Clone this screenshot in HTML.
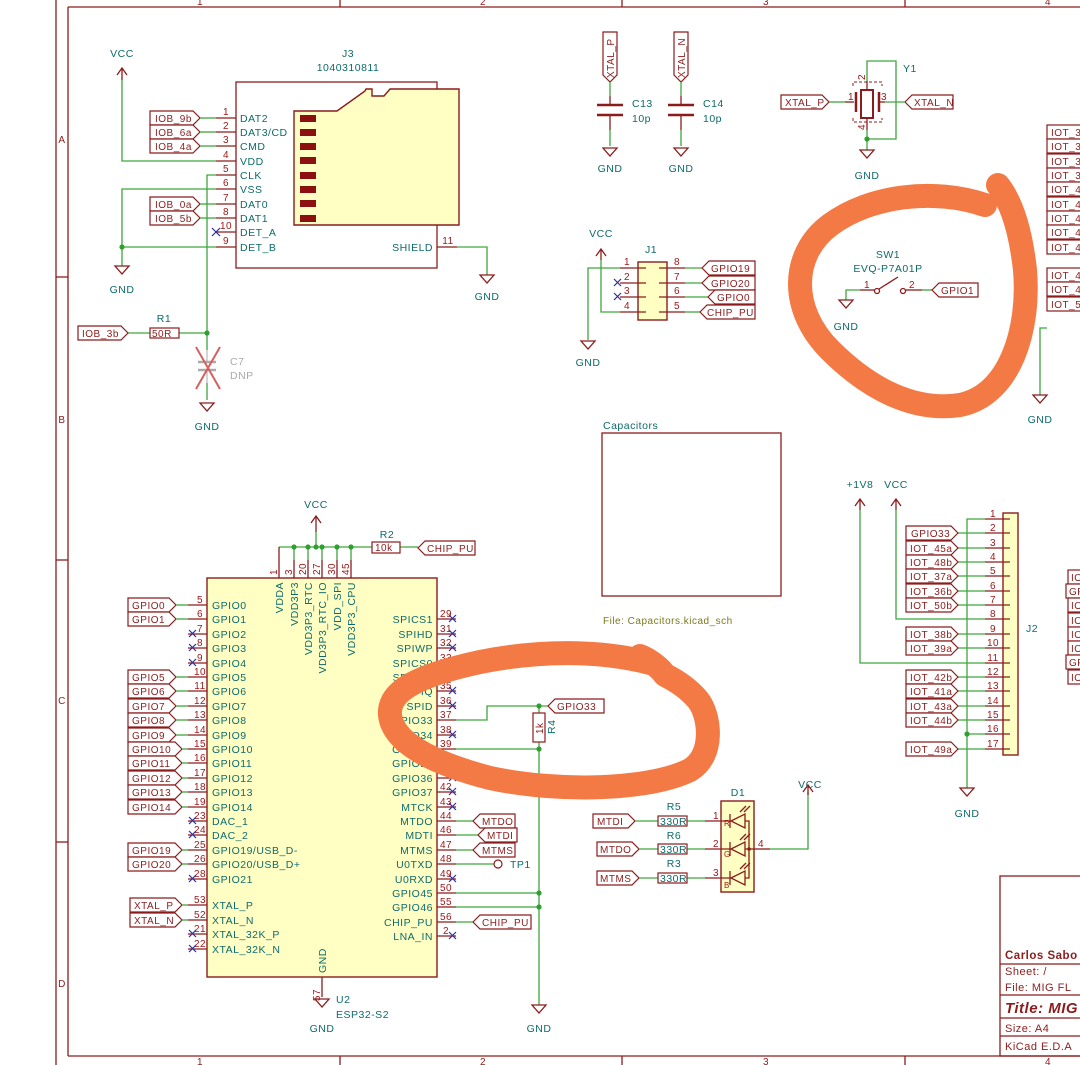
<!DOCTYPE html>
<html><head><meta charset="utf-8"><style>
html,body{margin:0;padding:0;background:#fff;}
svg{display:block;font-family:"Liberation Sans",sans-serif;}
text{letter-spacing:0.5px}
.w{stroke:#3ea63e;stroke-width:1.3;fill:none}
.p{stroke:#8c1c1c;stroke-width:1.3;fill:none}
.b{stroke:#8c1c1c;stroke-width:1.4;fill:#ffffc4}
.o{stroke:#8c1c1c;stroke-width:1.3;fill:none}
.l{stroke:#8c1c1c;stroke-width:1.2;fill:#fff}
.t{fill:#0d6b6b;font-size:10.5px}
.n{fill:#a01818;font-size:10px}
.lt{fill:#8c1c1c;font-size:10px}
.x{stroke:#2d2da0;stroke-width:1.2}
.d{fill:#2fa02f}
.or{stroke:#f47a45;stroke-width:24;fill:none;stroke-linecap:round;stroke-linejoin:round}
</style></head><body>
<svg width="1080" height="1065" viewBox="0 0 1080 1065" xmlns="http://www.w3.org/2000/svg">
<!-- frame -->
<g class="o">
<line x1="68" y1="7" x2="1080" y2="7"/><line x1="68" y1="7" x2="68" y2="1056"/><line x1="68" y1="1056" x2="1080" y2="1056"/>
<line x1="56" y1="0" x2="56" y2="1065"/>
<line x1="340" y1="0" x2="340" y2="7"/><line x1="622" y1="0" x2="622" y2="7"/><line x1="905" y1="0" x2="905" y2="7"/>
<line x1="340" y1="1056" x2="340" y2="1065"/><line x1="622" y1="1056" x2="622" y2="1065"/><line x1="905" y1="1056" x2="905" y2="1065"/>
<line x1="56" y1="277" x2="68" y2="277"/><line x1="56" y1="560" x2="68" y2="560"/><line x1="56" y1="842" x2="68" y2="842"/>
</g>
<g class="lt" text-anchor="middle" font-size="10">
<text x="200" y="5">1</text><text x="483" y="5">2</text><text x="766" y="5">3</text><text x="1048" y="5">4</text>
<text x="200" y="1065">1</text><text x="483" y="1065">2</text><text x="766" y="1065">3</text><text x="1048" y="1065">4</text>
<text x="62" y="143">A</text><text x="62" y="423">B</text><text x="62" y="704">C</text><text x="62" y="987">D</text>
</g>

<!-- J3 SD card -->
<text class="t" x="348" y="57" text-anchor="middle">J3</text>
<text class="t" x="348" y="71" text-anchor="middle">1040310811</text>
<rect x="236" y="82" width="201" height="186" class="o"/>
<path class="b" d="M294 111 L337 111 L365 91 L366 89 L372 89 L372 96 L384 96 L390 89 L459 89 L459 225 L294 225 Z"/>
<g fill="#8c1010"><rect x="300" y="115" width="16" height="7"/><rect x="300" y="129" width="16" height="7"/><rect x="300" y="143" width="16" height="7"/><rect x="300" y="157" width="16" height="7"/><rect x="300" y="172" width="16" height="7"/><rect x="300" y="186" width="16" height="7"/><rect x="300" y="200" width="16" height="7"/><rect x="300" y="215" width="16" height="7"/></g>
<g class="p"><line x1="216" y1="118" x2="236" y2="118"/><line x1="216" y1="132" x2="236" y2="132"/><line x1="216" y1="146" x2="236" y2="146"/><line x1="216" y1="161" x2="236" y2="161"/><line x1="216" y1="175" x2="236" y2="175"/><line x1="216" y1="189" x2="236" y2="189"/><line x1="216" y1="204" x2="236" y2="204"/><line x1="216" y1="218" x2="236" y2="218"/><line x1="216" y1="232" x2="236" y2="232"/><line x1="216" y1="247" x2="236" y2="247"/><line x1="437" y1="247" x2="457" y2="247"/></g>
<g class="n" text-anchor="middle"><text x="226" y="115">1</text><text x="226" y="129">2</text><text x="226" y="143">3</text><text x="226" y="158">4</text><text x="226" y="172">5</text><text x="226" y="186">6</text><text x="226" y="201">7</text><text x="226" y="215">8</text><text x="226" y="229">10</text><text x="226" y="244">9</text><text x="448" y="244">11</text></g>
<g class="t"><text x="240" y="122">DAT2</text><text x="240" y="136">DAT3/CD</text><text x="240" y="150">CMD</text><text x="240" y="165">VDD</text><text x="240" y="179">CLK</text><text x="240" y="193">VSS</text><text x="240" y="208">DAT0</text><text x="240" y="222">DAT1</text><text x="240" y="236">DET_A</text><text x="240" y="251">DET_B</text><text x="433" y="251" text-anchor="end">SHIELD</text></g>
<g class="l"><polygon points="150,111 193,111 200,118 193,125 150,125"/><polygon points="150,125 193,125 200,132 193,139 150,139"/><polygon points="150,139 193,139 200,146 193,153 150,153"/><polygon points="150,197 193,197 200,204 193,211 150,211"/><polygon points="150,211 193,211 200,218 193,225 150,225"/></g>
<g class="lt" font-size="10"><text x="155" y="122">IOB_9b</text><text x="155" y="136">IOB_6a</text><text x="155" y="150">IOB_4a</text><text x="155" y="208">IOB_0a</text><text x="155" y="222">IOB_5b</text></g>
<g class="w"><line x1="200" y1="118" x2="216" y2="118"/><line x1="200" y1="132" x2="216" y2="132"/><line x1="200" y1="146" x2="216" y2="146"/><line x1="200" y1="204" x2="216" y2="204"/><line x1="200" y1="218" x2="216" y2="218"/>
<polyline points="122,80 122,161 216,161"/><polyline points="216,189 122,189 122,266"/><line x1="122" y1="247" x2="216" y2="247"/>
<polyline points="216,175 207,175 207,350"/><line x1="207" y1="383" x2="207" y2="400"/>
<polyline points="457,247 487,247 487,275"/><line x1="128" y1="333" x2="150" y2="333"/><line x1="179" y1="333" x2="207" y2="333"/></g>
<path class="p" d="M117 75 L122 68 L127 75 M122 68 L122 80"/>
<text class="t" x="122" y="57" text-anchor="middle">VCC</text>
<path class="p" d="M115 266 L129 266 L122 274 Z"/><text class="t" x="122" y="293" text-anchor="middle">GND</text>
<path class="p" d="M480 275 L494 275 L487 283 Z"/><text class="t" x="487" y="300" text-anchor="middle">GND</text>
<line class="x" x1="212" y1="228" x2="220" y2="236"/><line class="x" x1="220" y1="228" x2="212" y2="236"/>
<circle class="d" cx="122" cy="247" r="2.6"/><circle class="d" cx="207" cy="333" r="2.6"/>
<polygon class="l" points="78,326 121,326 128,333 121,340 78,340"/><text class="lt" x="82" y="337">IOB_3b</text>
<rect x="150" y="328" width="29" height="10" class="l"/><text class="lt" x="152" y="337" font-size="10">50R</text>
<text class="t" x="164" y="322" text-anchor="middle">R1</text>
<g stroke="#aaa" stroke-width="2.5"><line x1="198" y1="362" x2="216" y2="362"/><line x1="198" y1="370" x2="216" y2="370"/></g>
<line x1="207" y1="350" x2="207" y2="362" stroke="#aaa"/><line x1="207" y1="370" x2="207" y2="383" stroke="#aaa"/>
<g stroke="#d46060" stroke-width="2"><line x1="196" y1="347" x2="220" y2="389"/><line x1="220" y1="347" x2="196" y2="389"/></g>
<text x="230" y="365" fill="#aaa" font-size="10.5">C7</text><text x="230" y="379" fill="#aaa" font-size="10.5">DNP</text>
<path class="p" d="M200 403 L214 403 L207 411 Z"/><text class="t" x="207" y="430" text-anchor="middle">GND</text>

<!-- C13 C14 -->
<g class="l"><polygon points="603,32 617,32 617,75 610,82 603,75"/><polygon points="674,32 688,32 688,75 681,82 674,75"/></g>
<text class="lt" transform="translate(614,78) rotate(-90)">XTAL_P</text><text class="lt" transform="translate(685,78) rotate(-90)">XTAL_N</text>
<g class="w"><line x1="610" y1="82" x2="610" y2="96"/><line x1="681" y1="82" x2="681" y2="96"/><line x1="610" y1="130" x2="610" y2="146"/><line x1="681" y1="130" x2="681" y2="146"/></g>
<g stroke="#8c1c1c" stroke-width="2.6"><line x1="597" y1="105" x2="623" y2="105"/><line x1="597" y1="115" x2="623" y2="115"/><line x1="668" y1="105" x2="694" y2="105"/><line x1="668" y1="115" x2="694" y2="115"/></g>
<g class="p"><line x1="610" y1="96" x2="610" y2="105"/><line x1="610" y1="115" x2="610" y2="130"/><line x1="681" y1="96" x2="681" y2="105"/><line x1="681" y1="115" x2="681" y2="130"/>
<path d="M603 148 L617 148 L610 156 Z"/><path d="M674 148 L688 148 L681 156 Z"/></g>
<g class="t"><text x="632" y="107">C13</text><text x="632" y="122">10p</text><text x="703" y="107">C14</text><text x="703" y="122">10p</text><text x="610" y="172" text-anchor="middle">GND</text><text x="681" y="172" text-anchor="middle">GND</text></g>

<!-- Y1 -->
<polygon class="l" points="781,95 822,95 829,102 822,109 781,109"/><text class="lt" x="785" y="106">XTAL_P</text>
<polygon class="l" points="905,102 912,95 953,95 953,109 912,109"/><text class="lt" x="914" y="106">XTAL_N</text>
<g class="w"><line x1="829" y1="102" x2="845" y2="102"/><line x1="885" y1="102" x2="905" y2="102"/><polyline points="867,81 867,61 896,61 896,139 867,139"/><line x1="867" y1="130" x2="867" y2="150"/></g>
<g class="p"><line x1="845" y1="102" x2="854" y2="102"/><line x1="880" y1="102" x2="885" y2="102"/><line x1="867" y1="81" x2="867" y2="90"/><line x1="867" y1="118" x2="867" y2="130"/><path d="M860 150 L874 150 L867 158 Z"/></g>
<g stroke="#8c1c1c" stroke-width="2.5"><line x1="856" y1="92" x2="856" y2="112"/><line x1="879" y1="92" x2="879" y2="112"/></g>
<rect x="861" y="90" width="12" height="28" fill="none" stroke="#8c1c1c" stroke-width="2"/>
<path d="M853 86 L853 82 L882 82 L882 86 M853 118 L853 122 L882 122 L882 118" fill="none" stroke="#8c1c1c" stroke-dasharray="3,2"/>
<circle class="d" cx="867" cy="139" r="2.6"/>
<g class="n"><text x="848" y="100">1</text><text x="881" y="100">3</text><text transform="translate(865,80) rotate(-90)">2</text><text transform="translate(865,130) rotate(-90)">4</text></g>
<text class="t" x="903" y="72">Y1</text><text class="t" x="867" y="179" text-anchor="middle">GND</text>

<!-- J1 -->
<text class="t" x="601" y="237" text-anchor="middle">VCC</text>
<path class="p" d="M596 256 L601 249 L606 256 M601 249 L601 260"/>
<text class="t" x="651" y="253" text-anchor="middle">J1</text>
<rect x="638" y="262" width="29" height="58" class="b"/>
<g class="p"><line x1="620" y1="268" x2="646" y2="268"/><line x1="620" y1="283" x2="646" y2="283"/><line x1="620" y1="297" x2="646" y2="297"/><line x1="620" y1="312" x2="646" y2="312"/><line x1="659" y1="268" x2="685" y2="268"/><line x1="659" y1="283" x2="685" y2="283"/><line x1="659" y1="297" x2="685" y2="297"/><line x1="659" y1="312" x2="685" y2="312"/></g>
<g class="n" text-anchor="middle"><text x="627" y="265">1</text><text x="627" y="280">2</text><text x="627" y="294">3</text><text x="627" y="309">4</text><text x="677" y="265">8</text><text x="677" y="280">7</text><text x="677" y="294">6</text><text x="677" y="309">5</text></g>
<g class="w"><polyline points="620,268 588,268 588,340"/><polyline points="601,260 601,312 620,312"/><line x1="685" y1="268" x2="702" y2="268"/><line x1="685" y1="283" x2="702" y2="283"/><line x1="685" y1="297" x2="708" y2="297"/><line x1="685" y1="312" x2="700" y2="312"/></g>
<g class="x"><line x1="614" y1="279" x2="621" y2="286"/><line x1="621" y1="279" x2="614" y2="286"/><line x1="614" y1="293" x2="621" y2="300"/><line x1="621" y1="293" x2="614" y2="300"/></g>
<path class="p" d="M581 341 L595 341 L588 349 Z"/><text class="t" x="588" y="366" text-anchor="middle">GND</text>
<g class="l"><polygon points="702,268 709,261 755,261 755,275 709,275"/><polygon points="702,283 709,276 755,276 755,290 709,290"/><polygon points="708,297 715,290 755,290 755,304 715,304"/><polygon points="700,312 707,305 755,305 755,319 707,319"/></g>
<g class="lt"><text x="711" y="272">GPIO19</text><text x="711" y="287">GPIO20</text><text x="717" y="301">GPIO0</text><text x="707" y="316">CHIP_PU</text></g>

<!-- SW1 -->
<text class="t" x="888" y="258" text-anchor="middle">SW1</text><text class="t" x="888" y="272" text-anchor="middle">EVQ-P7A01P</text>
<g class="w"><polyline points="860,290 846,290 846,300"/><line x1="922" y1="290" x2="932" y2="290"/></g>
<g class="p"><line x1="860" y1="290" x2="875" y2="290"/><line x1="906" y1="290" x2="922" y2="290"/><circle cx="877" cy="291" r="2.5"/><circle cx="903" cy="291" r="2.5"/><line x1="879" y1="289" x2="898" y2="277"/><path d="M839 300 L853 300 L846 308 Z"/></g>
<g class="n"><text x="864" y="288">1</text><text x="909" y="288">2</text></g>
<polygon class="l" points="932,290 939,283 978,283 978,297 939,297"/><text class="lt" x="941" y="294">GPIO1</text>
<text class="t" x="846" y="330" text-anchor="middle">GND</text>

<!-- right edge labels -->
<g class="l"><rect x="1047" y="125" width="40" height="14"/><rect x="1047" y="139" width="40" height="14"/><rect x="1047" y="154" width="40" height="14"/><rect x="1047" y="168" width="40" height="14"/><rect x="1047" y="182" width="40" height="14"/><rect x="1047" y="197" width="40" height="14"/><rect x="1047" y="211" width="40" height="14"/><rect x="1047" y="225" width="40" height="14"/><rect x="1047" y="240" width="40" height="14"/><rect x="1047" y="268" width="40" height="14"/><rect x="1047" y="282" width="40" height="14"/><rect x="1047" y="297" width="40" height="14"/></g>
<g class="lt"><text x="1051" y="136">IOT_3</text><text x="1051" y="150">IOT_3</text><text x="1051" y="165">IOT_3</text><text x="1051" y="179">IOT_3</text><text x="1051" y="193">IOT_4</text><text x="1051" y="208">IOT_4</text><text x="1051" y="222">IOT_4</text><text x="1051" y="236">IOT_4</text><text x="1051" y="251">IOT_4</text><text x="1051" y="279">IOT_4</text><text x="1051" y="293">IOT_4</text><text x="1051" y="308">IOT_5</text></g>
<g class="w"><polyline points="1047,328 1040,328 1040,395"/></g>
<path class="p" d="M1033 395 L1047 395 L1040 403 Z"/><text class="t" x="1040" y="423" text-anchor="middle">GND</text>

<!-- Capacitors sheet -->
<text class="t" x="603" y="429">Capacitors</text>
<rect x="602" y="433" width="179" height="163" class="o"/>
<text x="603" y="624" fill="#7a7a1a" font-size="10">File: Capacitors.kicad_sch</text>

<!-- U2 -->
<rect x="207" y="578" width="230" height="399" class="b"/>
<text class="t" x="316" y="508" text-anchor="middle">VCC</text>
<path class="p" d="M311 523 L316 516 L321 523 M316 516 L316 532"/>
<g class="w"><line x1="316" y1="532" x2="316" y2="547"/><line x1="279" y1="547" x2="372" y2="547"/><line x1="400" y1="547" x2="418" y2="547"/></g>
<g class="p"><line x1="279" y1="547" x2="279" y2="578"/><line x1="294" y1="560" x2="294" y2="578"/><line x1="308" y1="560" x2="308" y2="578"/><line x1="322" y1="560" x2="322" y2="578"/><line x1="337" y1="560" x2="337" y2="578"/><line x1="351" y1="560" x2="351" y2="578"/></g>
<g class="w"><line x1="294" y1="547" x2="294" y2="560"/><line x1="308" y1="547" x2="308" y2="560"/><line x1="322" y1="547" x2="322" y2="560"/><line x1="337" y1="547" x2="337" y2="560"/><line x1="351" y1="547" x2="351" y2="560"/></g>
<g class="d"><circle cx="294" cy="547" r="2.6"/><circle cx="308" cy="547" r="2.6"/><circle cx="316" cy="547" r="2.6"/><circle cx="322" cy="547" r="2.6"/><circle cx="337" cy="547" r="2.6"/><circle cx="351" cy="547" r="2.6"/></g>
<g class="n"><text transform="translate(277,575) rotate(-90)">1</text><text transform="translate(292,575) rotate(-90)">3</text><text transform="translate(306,575) rotate(-90)">20</text><text transform="translate(320,575) rotate(-90)">27</text><text transform="translate(335,575) rotate(-90)">30</text><text transform="translate(349,575) rotate(-90)">45</text></g>
<g class="t" text-anchor="end"><text transform="translate(283,582) rotate(-90)">VDDA</text><text transform="translate(298,582) rotate(-90)">VDD3P3</text><text transform="translate(312,582) rotate(-90)">VDD3P3_RTC</text><text transform="translate(326,582) rotate(-90)">VDD3P3_RTC_IO</text><text transform="translate(341,582) rotate(-90)">VDD_SPI</text><text transform="translate(355,582) rotate(-90)">VDD3P3_CPU</text></g>
<rect x="372" y="542" width="28" height="11" class="l"/><text class="lt" x="375" y="551">10k</text><text class="t" x="387" y="538" text-anchor="middle">R2</text>
<polygon class="l" points="418,548 425,541 475,541 475,555 425,555"/><text class="lt" x="427" y="552">CHIP_PU</text>

<!-- U2 left pins -->
<g class="p">
<line x1="188" y1="605" x2="207" y2="605"/><line x1="188" y1="619" x2="207" y2="619"/><line x1="188" y1="634" x2="207" y2="634"/><line x1="188" y1="648" x2="207" y2="648"/><line x1="188" y1="663" x2="207" y2="663"/><line x1="188" y1="677" x2="207" y2="677"/><line x1="188" y1="691" x2="207" y2="691"/><line x1="188" y1="706" x2="207" y2="706"/><line x1="188" y1="720" x2="207" y2="720"/><line x1="188" y1="735" x2="207" y2="735"/><line x1="188" y1="749" x2="207" y2="749"/><line x1="188" y1="763" x2="207" y2="763"/><line x1="188" y1="778" x2="207" y2="778"/><line x1="188" y1="792" x2="207" y2="792"/><line x1="188" y1="807" x2="207" y2="807"/><line x1="188" y1="821" x2="207" y2="821"/><line x1="188" y1="835" x2="207" y2="835"/><line x1="188" y1="850" x2="207" y2="850"/><line x1="188" y1="864" x2="207" y2="864"/><line x1="188" y1="879" x2="207" y2="879"/><line x1="188" y1="905" x2="207" y2="905"/><line x1="188" y1="920" x2="207" y2="920"/><line x1="188" y1="934" x2="207" y2="934"/><line x1="188" y1="949" x2="207" y2="949"/>
</g>
<g class="n" text-anchor="middle">
<text x="200" y="603">5</text><text x="200" y="617">6</text><text x="200" y="632">7</text><text x="200" y="646">8</text><text x="200" y="661">9</text><text x="200" y="675">10</text><text x="200" y="689">11</text><text x="200" y="704">12</text><text x="200" y="718">13</text><text x="200" y="733">14</text><text x="200" y="747">15</text><text x="200" y="761">16</text><text x="200" y="776">17</text><text x="200" y="790">18</text><text x="200" y="805">19</text><text x="200" y="819">23</text><text x="200" y="833">24</text><text x="200" y="848">25</text><text x="200" y="862">26</text><text x="200" y="877">28</text><text x="200" y="903">53</text><text x="200" y="918">52</text><text x="200" y="932">21</text><text x="200" y="947">22</text>
</g>
<g class="t">
<text x="212" y="609">GPIO0</text><text x="212" y="623">GPIO1</text><text x="212" y="638">GPIO2</text><text x="212" y="652">GPIO3</text><text x="212" y="667">GPIO4</text><text x="212" y="681">GPIO5</text><text x="212" y="695">GPIO6</text><text x="212" y="710">GPIO7</text><text x="212" y="724">GPIO8</text><text x="212" y="739">GPIO9</text><text x="212" y="753">GPIO10</text><text x="212" y="767">GPIO11</text><text x="212" y="782">GPIO12</text><text x="212" y="796">GPIO13</text><text x="212" y="811">GPIO14</text><text x="212" y="825">DAC_1</text><text x="212" y="839">DAC_2</text><text x="212" y="854">GPIO19/USB_D-</text><text x="212" y="868">GPIO20/USB_D+</text><text x="212" y="883">GPIO21</text><text x="212" y="909">XTAL_P</text><text x="212" y="924">XTAL_N</text><text x="212" y="938">XTAL_32K_P</text><text x="212" y="953">XTAL_32K_N</text>
</g>
<g class="x">
<path d="M189 630 l7 7 m0 -7 l-7 7 M189 644 l7 7 m0 -7 l-7 7 M189 659 l7 7 m0 -7 l-7 7 M189 817 l7 7 m0 -7 l-7 7 M189 831 l7 7 m0 -7 l-7 7 M189 875 l7 7 m0 -7 l-7 7 M189 930 l7 7 m0 -7 l-7 7 M189 945 l7 7 m0 -7 l-7 7"/>
</g>
<g class="l">
<polygon points="128,598 169,598 176,605 169,612 128,612"/><polygon points="128,612 169,612 176,619 169,626 128,626"/>
<polygon points="128,670 169,670 176,677 169,684 128,684"/><polygon points="128,684 169,684 176,691 169,698 128,698"/><polygon points="128,699 169,699 176,706 169,713 128,713"/><polygon points="128,713 169,713 176,720 169,727 128,727"/><polygon points="128,728 169,728 176,735 169,742 128,742"/>
<polygon points="128,742 175,742 182,749 175,756 128,756"/><polygon points="128,756 175,756 182,763 175,770 128,770"/><polygon points="128,771 175,771 182,778 175,785 128,785"/><polygon points="128,785 175,785 182,792 175,799 128,799"/><polygon points="128,800 175,800 182,807 175,814 128,814"/>
<polygon points="128,843 175,843 182,850 175,857 128,857"/><polygon points="128,857 175,857 182,864 175,871 128,871"/>
<polygon points="130,898 175,898 182,905 175,912 130,912"/><polygon points="130,913 175,913 182,920 175,927 130,927"/>
</g>
<g class="lt">
<text x="132" y="609">GPIO0</text><text x="132" y="623">GPIO1</text><text x="132" y="681">GPIO5</text><text x="132" y="695">GPIO6</text><text x="132" y="710">GPIO7</text><text x="132" y="724">GPIO8</text><text x="132" y="739">GPIO9</text><text x="132" y="753">GPIO10</text><text x="132" y="767">GPIO11</text><text x="132" y="782">GPIO12</text><text x="132" y="796">GPIO13</text><text x="132" y="811">GPIO14</text><text x="132" y="854">GPIO19</text><text x="132" y="868">GPIO20</text><text x="134" y="909">XTAL_P</text><text x="134" y="924">XTAL_N</text>
</g>
<g class="w">
<line x1="176" y1="605" x2="188" y2="605"/><line x1="176" y1="619" x2="188" y2="619"/><line x1="176" y1="677" x2="188" y2="677"/><line x1="176" y1="691" x2="188" y2="691"/><line x1="176" y1="706" x2="188" y2="706"/><line x1="176" y1="720" x2="188" y2="720"/><line x1="176" y1="735" x2="188" y2="735"/><line x1="182" y1="749" x2="188" y2="749"/><line x1="182" y1="763" x2="188" y2="763"/><line x1="182" y1="778" x2="188" y2="778"/><line x1="182" y1="792" x2="188" y2="792"/><line x1="182" y1="807" x2="188" y2="807"/><line x1="182" y1="850" x2="188" y2="850"/><line x1="182" y1="864" x2="188" y2="864"/><line x1="182" y1="905" x2="188" y2="905"/><line x1="182" y1="920" x2="188" y2="920"/>
</g>

<!-- U2 right pins -->
<g class="p">
<line x1="437" y1="619" x2="456" y2="619"/><line x1="437" y1="634" x2="456" y2="634"/><line x1="437" y1="648" x2="456" y2="648"/><line x1="437" y1="663" x2="456" y2="663"/><line x1="437" y1="677" x2="456" y2="677"/><line x1="437" y1="691" x2="456" y2="691"/><line x1="437" y1="706" x2="456" y2="706"/><line x1="437" y1="720" x2="456" y2="720"/><line x1="437" y1="735" x2="456" y2="735"/><line x1="437" y1="749" x2="456" y2="749"/><line x1="437" y1="763" x2="456" y2="763"/><line x1="437" y1="778" x2="456" y2="778"/><line x1="437" y1="792" x2="456" y2="792"/><line x1="437" y1="807" x2="456" y2="807"/><line x1="437" y1="821" x2="456" y2="821"/><line x1="437" y1="835" x2="456" y2="835"/><line x1="437" y1="850" x2="456" y2="850"/><line x1="437" y1="864" x2="456" y2="864"/><line x1="437" y1="879" x2="456" y2="879"/><line x1="437" y1="893" x2="456" y2="893"/><line x1="437" y1="907" x2="456" y2="907"/><line x1="437" y1="922" x2="456" y2="922"/><line x1="437" y1="936" x2="456" y2="936"/>
<line x1="322" y1="977" x2="322" y2="997"/>
</g>
<g class="n" text-anchor="middle">
<text x="446" y="617">29</text><text x="446" y="632">31</text><text x="446" y="646">32</text><text x="446" y="661">33</text><text x="446" y="675">34</text><text x="446" y="689">35</text><text x="446" y="704">36</text><text x="446" y="718">37</text><text x="446" y="733">38</text><text x="446" y="747">39</text><text x="446" y="761">40</text><text x="446" y="776">41</text><text x="446" y="790">42</text><text x="446" y="805">43</text><text x="446" y="819">44</text><text x="446" y="833">46</text><text x="446" y="848">47</text><text x="446" y="862">48</text><text x="446" y="877">49</text><text x="446" y="891">50</text><text x="446" y="905">55</text><text x="446" y="920">56</text><text x="446" y="934">2</text>
<text transform="translate(320,995) rotate(-90)">57</text>
</g>
<g class="t" text-anchor="end">
<text x="433" y="623">SPICS1</text><text x="433" y="638">SPIHD</text><text x="433" y="652">SPIWP</text><text x="433" y="667">SPICS0</text><text x="433" y="681">SPICLK</text><text x="433" y="695">SPIQ</text><text x="433" y="710">SPID</text><text x="433" y="724">GPIO33</text><text x="433" y="739">GPIO34</text><text x="433" y="753">GPIO35</text><text x="433" y="767">GPIO26</text><text x="433" y="782">GPIO36</text><text x="433" y="796">GPIO37</text><text x="433" y="811">MTCK</text><text x="433" y="825">MTDO</text><text x="433" y="839">MDTI</text><text x="433" y="854">MTMS</text><text x="433" y="868">U0TXD</text><text x="433" y="883">U0RXD</text><text x="433" y="897">GPIO45</text><text x="433" y="911">GPIO46</text><text x="433" y="926">CHIP_PU</text><text x="433" y="940">LNA_IN</text>
<text transform="translate(326,973) rotate(-90)" text-anchor="start">GND</text>
</g>
<g class="x">
<path d="M449 615 l7 7 m0 -7 l-7 7 M449 630 l7 7 m0 -7 l-7 7 M449 644 l7 7 m0 -7 l-7 7 M449 659 l7 7 m0 -7 l-7 7 M449 673 l7 7 m0 -7 l-7 7 M449 687 l7 7 m0 -7 l-7 7 M449 702 l7 7 m0 -7 l-7 7 M449 731 l7 7 m0 -7 l-7 7 M449 759 l7 7 m0 -7 l-7 7 M449 774 l7 7 m0 -7 l-7 7 M449 788 l7 7 m0 -7 l-7 7 M449 803 l7 7 m0 -7 l-7 7 M449 875 l7 7 m0 -7 l-7 7 M449 932 l7 7 m0 -7 l-7 7"/>
</g>
<g class="w">
<polyline points="456,720 487,720 487,706 548,706"/><line x1="539" y1="706" x2="539" y2="713"/><line x1="456" y1="749" x2="539" y2="749"/><polyline points="539,742 539,1005"/>
<line x1="456" y1="893" x2="539" y2="893"/><line x1="456" y1="907" x2="539" y2="907"/>
<line x1="456" y1="821" x2="473" y2="821"/><line x1="456" y1="835" x2="478" y2="835"/><line x1="456" y1="850" x2="473" y2="850"/><line x1="456" y1="864" x2="494" y2="864"/><line x1="456" y1="922" x2="473" y2="922"/>
</g>
<g class="d"><circle cx="539" cy="706" r="2.6"/><circle cx="539" cy="749" r="2.6"/><circle cx="539" cy="893" r="2.6"/><circle cx="539" cy="907" r="2.6"/></g>
<rect x="533" y="713" width="12" height="29" class="l"/><text class="lt" transform="translate(543,734) rotate(-90)">1k</text><text class="t" transform="translate(555,734) rotate(-90)">R4</text>
<polygon class="l" points="548,706 555,699 604,699 604,713 555,713"/><text class="lt" x="557" y="710">GPIO33</text>
<g class="l"><polygon points="473,821 480,814 515,814 515,828 480,828"/><polygon points="478,835 485,828 517,828 517,842 485,842"/><polygon points="473,850 480,843 515,843 515,857 480,857"/><polygon points="473,922 480,915 531,915 531,929 480,929"/></g>
<g class="lt"><text x="482" y="825">MTDO</text><text x="487" y="839">MTDI</text><text x="482" y="854">MTMS</text><text x="482" y="926">CHIP_PU</text></g>
<circle cx="498" cy="864" r="4" fill="none" stroke="#8c1c1c" stroke-width="1.2"/><text class="t" x="510" y="868">TP1</text>
<g class="p"><path d="M315 999 L329 999 L322 1007 Z"/><path d="M532 1005 L546 1005 L539 1013 Z"/></g>
<text class="t" x="336" y="1003">U2</text><text class="t" x="336" y="1018">ESP32-S2</text>
<text class="t" x="322" y="1032" text-anchor="middle">GND</text><text class="t" x="539" y="1032" text-anchor="middle">GND</text>

<!-- D1 -->
<text class="t" x="738" y="796" text-anchor="middle">D1</text>
<rect x="721" y="801" width="33" height="91" class="b"/>
<g class="l"><polygon points="593,814 628,814 635,821 628,828 593,828"/><polygon points="597,842 632,842 639,849 632,856 597,856"/><polygon points="597,871 632,871 639,878 632,885 597,885"/></g>
<g class="lt"><text x="597" y="825">MTDI</text><text x="600" y="853">MTDO</text><text x="600" y="882">MTMS</text></g>
<g class="w"><line x1="635" y1="821" x2="658" y2="821"/><line x1="639" y1="849" x2="658" y2="849"/><line x1="639" y1="878" x2="658" y2="878"/><line x1="687" y1="821" x2="705" y2="821"/><line x1="687" y1="849" x2="705" y2="849"/><line x1="687" y1="878" x2="705" y2="878"/><polyline points="770,849 808,849 808,792"/></g>
<g class="p"><line x1="705" y1="821" x2="730" y2="821"/><line x1="705" y1="849" x2="730" y2="849"/><line x1="705" y1="878" x2="730" y2="878"/><line x1="754" y1="849" x2="770" y2="849"/>
<path d="M803 792 L808 785 L813 792 M808 785 L808 795"/>
<path d="M731 821 L745 814 L745 828 Z M730 814 L730 828 M745 821 L749 821 L749 878 L745 878 M731 849 L745 842 L745 856 Z M730 842 L730 856 M745 849 L754 849 M731 878 L745 871 L745 885 Z M730 871 L730 885"/>
<path d="M740 812 L746 806 M744 812 L750 806 M740 840 L746 834 M744 840 L750 834 M740 869 L746 863 M744 869 L750 863"/></g>
<circle cx="749" cy="849" r="1.8" fill="#8c1c1c"/>
<g class="l"><rect x="658" y="816" width="29" height="10"/><rect x="658" y="844" width="29" height="10"/><rect x="658" y="873" width="29" height="10"/></g>
<g class="t" font-size="10"><text x="660" y="825">330R</text><text x="660" y="853">330R</text><text x="660" y="882">330R</text></g>
<g class="t" text-anchor="middle"><text x="674" y="810">R5</text><text x="674" y="839">R6</text><text x="674" y="867">R3</text><text x="810" y="788">VCC</text></g>
<g class="n"><text x="713" y="819">1</text><text x="713" y="847">2</text><text x="713" y="876">3</text><text x="758" y="847">4</text><text x="724" y="826" font-size="8">R</text><text x="724" y="857" font-size="8">G</text><text x="724" y="888" font-size="8">B</text></g>

<!-- J2 -->
<text class="t" x="860" y="488" text-anchor="middle">+1V8</text><text class="t" x="896" y="488" text-anchor="middle">VCC</text>
<path class="p" d="M855 506 L860 499 L865 506 M860 499 L860 510 M891 506 L896 499 L901 506 M896 499 L896 510"/>
<rect x="1003" y="513" width="15" height="242" class="b"/>
<g class="p">
<line x1="985" y1="519" x2="1010" y2="519"/><line x1="985" y1="533" x2="1010" y2="533"/><line x1="985" y1="548" x2="1010" y2="548"/><line x1="985" y1="562" x2="1010" y2="562"/><line x1="985" y1="576" x2="1010" y2="576"/><line x1="985" y1="591" x2="1010" y2="591"/><line x1="985" y1="605" x2="1010" y2="605"/><line x1="985" y1="619" x2="1010" y2="619"/><line x1="985" y1="634" x2="1010" y2="634"/><line x1="985" y1="648" x2="1010" y2="648"/><line x1="985" y1="663" x2="1010" y2="663"/><line x1="985" y1="677" x2="1010" y2="677"/><line x1="985" y1="691" x2="1010" y2="691"/><line x1="985" y1="706" x2="1010" y2="706"/><line x1="985" y1="720" x2="1010" y2="720"/><line x1="985" y1="734" x2="1010" y2="734"/><line x1="985" y1="749" x2="1010" y2="749"/>
</g>
<g class="n" text-anchor="middle">
<text x="993" y="517">1</text><text x="993" y="531">2</text><text x="993" y="546">3</text><text x="993" y="560">4</text><text x="993" y="574">5</text><text x="993" y="589">6</text><text x="993" y="603">7</text><text x="993" y="617">8</text><text x="993" y="632">9</text><text x="993" y="646">10</text><text x="993" y="661">11</text><text x="993" y="675">12</text><text x="993" y="689">13</text><text x="993" y="704">14</text><text x="993" y="718">15</text><text x="993" y="732">16</text><text x="993" y="747">17</text>
</g>
<text class="t" x="1026" y="632">J2</text>
<g class="w">
<polyline points="985,519 967,519 967,788"/><line x1="958" y1="533" x2="985" y2="533"/><line x1="958" y1="548" x2="985" y2="548"/><line x1="958" y1="562" x2="985" y2="562"/><line x1="958" y1="576" x2="985" y2="576"/><line x1="958" y1="591" x2="985" y2="591"/><line x1="958" y1="605" x2="985" y2="605"/><polyline points="896,510 896,619 985,619"/><line x1="958" y1="634" x2="985" y2="634"/><line x1="958" y1="648" x2="985" y2="648"/><polyline points="860,510 860,663 985,663"/><line x1="958" y1="677" x2="985" y2="677"/><line x1="958" y1="691" x2="985" y2="691"/><line x1="958" y1="706" x2="985" y2="706"/><line x1="958" y1="720" x2="985" y2="720"/><line x1="967" y1="734" x2="985" y2="734"/><line x1="958" y1="749" x2="985" y2="749"/>
</g>
<circle class="d" cx="967" cy="734" r="2.6"/>
<path class="p" d="M960 788 L974 788 L967 796 Z"/><text class="t" x="967" y="817" text-anchor="middle">GND</text>
<g class="l">
<polygon points="906,526 951,526 958,533 951,540 906,540"/><polygon points="906,541 951,541 958,548 951,555 906,555"/><polygon points="906,555 951,555 958,562 951,569 906,569"/><polygon points="906,569 951,569 958,576 951,583 906,583"/><polygon points="906,584 951,584 958,591 951,598 906,598"/><polygon points="906,598 951,598 958,605 951,612 906,612"/><polygon points="906,627 951,627 958,634 951,641 906,641"/><polygon points="906,641 951,641 958,648 951,655 906,655"/><polygon points="906,670 951,670 958,677 951,684 906,684"/><polygon points="906,684 951,684 958,691 951,698 906,698"/><polygon points="906,699 951,699 958,706 951,713 906,713"/><polygon points="906,713 951,713 958,720 951,727 906,727"/><polygon points="906,742 951,742 958,749 951,756 906,756"/>
</g>
<g class="lt">
<text x="911" y="537">GPIO33</text><text x="910" y="552">IOT_45a</text><text x="910" y="566">IOT_48b</text><text x="910" y="580">IOT_37a</text><text x="910" y="595">IOT_36b</text><text x="910" y="609">IOT_50b</text><text x="910" y="638">IOT_38b</text><text x="910" y="652">IOT_39a</text><text x="910" y="681">IOT_42b</text><text x="910" y="695">IOT_41a</text><text x="910" y="710">IOT_43a</text><text x="910" y="724">IOT_44b</text><text x="910" y="753">IOT_49a</text>
</g>
<g class="l"><rect x="1068" y="570" width="20" height="14"/><rect x="1066" y="584" width="22" height="14"/><rect x="1068" y="598" width="20" height="14"/><rect x="1068" y="613" width="20" height="14"/><rect x="1068" y="627" width="20" height="14"/><rect x="1068" y="641" width="20" height="14"/><rect x="1066" y="655" width="22" height="14"/><rect x="1068" y="670" width="20" height="14"/></g>
<g class="lt"><text x="1071" y="581">IO</text><text x="1069" y="595">GP</text><text x="1071" y="609">IO</text><text x="1071" y="624">IO</text><text x="1071" y="638">IO</text><text x="1071" y="652">IO</text><text x="1069" y="666">GP</text><text x="1071" y="681">IO</text></g>

<!-- title block -->
<g class="o"><rect x="1000" y="876" width="90" height="180"/><line x1="1000" y1="964" x2="1080" y2="964"/><line x1="1000" y1="995" x2="1080" y2="995"/><line x1="1000" y1="1018" x2="1080" y2="1018"/><line x1="1000" y1="1036" x2="1080" y2="1036"/></g>
<g fill="#8c1c1c"><text x="1005" y="959" font-weight="bold" font-size="11.5">Carlos Sabo</text><text x="1005" y="975" font-size="11">Sheet: /</text><text x="1005" y="991" font-size="11">File: MIG FL</text><text x="1005" y="1013" font-weight="bold" font-style="italic" font-size="15">Title: MIG</text><text x="1005" y="1032" font-size="11">Size: A4</text><text x="1005" y="1050" font-size="11">KiCad E.D.A</text></g>

<!-- orange marker strokes -->
<path class="or" d="M985 205 C 935 188, 870 195, 830 225 C 790 255, 790 310, 830 350 C 870 390, 915 412, 960 405 C 1010 395, 1030 330, 1025 270 C 1020 225, 1010 200, 998 185"/>
<path class="or" d="M650 663 C 600 650, 540 650, 480 662 C 420 675, 388 690, 390 715 C 393 745, 440 765, 490 778 C 560 793, 650 790, 690 770 C 715 755, 710 715, 698 700 C 688 688, 675 680, 665 675 C 660 668, 650 660, 640 656"/>
</svg>
</body></html>
